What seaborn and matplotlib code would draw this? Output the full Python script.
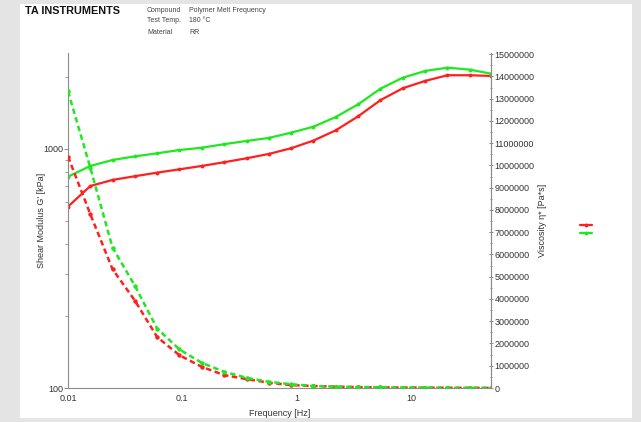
import numpy as np
import pandas as pd
import matplotlib
matplotlib.use('Agg')
import matplotlib.pyplot as plt
from matplotlib.patches import Rectangle
from matplotlib.lines import Line2D
from matplotlib.ticker import FuncFormatter, MultipleLocator, LogLocator, NullFormatter
import seaborn as sns

# frequency sweep [Hz]
freq = [0.01, 0.0157, 0.0245, 0.0384, 0.0602, 0.0944, 0.148, 0.232, 0.364, 0.570,
        0.894, 1.40, 2.20, 3.45, 5.40, 8.47, 13.3, 20.8, 32.6, 50.0]

# shear modulus G' [kPa] (left, log axis)
g_red = [574, 700, 742, 769, 796, 822, 849, 880, 914, 953,
         1007, 1084, 1197, 1370, 1600, 1795, 1926, 2034, 2034, 2020]
g_green = [766, 849, 899, 931, 959, 990, 1012, 1047, 1080, 1112,
           1170, 1239, 1361, 1538, 1787, 1987, 2120, 2188, 2147, 2065]

# complex viscosity [Pa*s] (right, linear axis)
eta_red = [10400000, 7800000, 5340000, 3930000, 2290000, 1470000, 950000, 580000, 400000, 240000,
           130000, 90000, 60000, 40000, 30000, 20000, 15000, 10000, 7000, 5000]
eta_green = [13330000, 9880000, 6310000, 4600000, 2670000, 1730000, 1130000, 730000, 460000, 280000,
             170000, 90000, 60000, 45000, 32000, 22000, 16000, 11000, 8000, 5000]

RED = '#ff1f1f'
GREEN = '#1fe81f'

sns.set_style('white')
plt.rcParams['font.family'] = ['Liberation Sans', 'DejaVu Sans']

df = pd.DataFrame({'freq': freq, 'g_red': g_red, 'g_green': g_green,
                   'eta_red': eta_red, 'eta_green': eta_green})

fig = plt.figure(figsize=(6.41, 4.22), dpi=100, facecolor='#e4e4e4')
fig.patches.append(Rectangle((20 / 641, 4 / 422), 612 / 641, 414 / 422,
                             transform=fig.transFigure, facecolor='white',
                             edgecolor='none', zorder=-10))

ax = fig.add_axes([68 / 641, 34 / 422, 423 / 641, 335 / 422])
ax.set_facecolor('none')
ax2 = ax.twinx()

# G' curves - solid
sns.lineplot(data=df, x='freq', y='g_red', ax=ax, color=RED, lw=1.6,
             marker='o', markersize=2.8, markeredgewidth=0)
sns.lineplot(data=df, x='freq', y='g_green', ax=ax, color=GREEN, lw=1.6,
             marker='o', markersize=2.8, markeredgewidth=0)

# viscosity curves - dashed
sns.lineplot(data=df, x='freq', y='eta_red', ax=ax2, color=RED, lw=1.8,
             linestyle=(0, (2.2, 1.4)), marker='o', markersize=3.2, markeredgewidth=0)
sns.lineplot(data=df, x='freq', y='eta_green', ax=ax2, color=GREEN, lw=1.8,
             linestyle=(0, (2.2, 1.4)), marker='o', markersize=3.2, markeredgewidth=0)

ax.set_xscale('log')
ax.set_yscale('log')
ax.set_xlim(0.01, 50)
ax.set_ylim(100, 2520)
ax2.set_ylim(0, 15050000)

ax.xaxis.set_major_formatter(FuncFormatter(lambda v, p: f'{v:g}'))
ax.xaxis.set_minor_locator(LogLocator(base=10, subs=np.arange(2, 10)))
ax.xaxis.set_minor_formatter(NullFormatter())
ax.yaxis.set_major_formatter(FuncFormatter(lambda v, p: f'{v:g}'))
ax.yaxis.set_minor_locator(LogLocator(base=10, subs=np.arange(2, 10)))
ax.yaxis.set_minor_formatter(NullFormatter())

ax2.yaxis.set_major_locator(MultipleLocator(1000000))
ax2.yaxis.set_minor_locator(MultipleLocator(500000))
ax2.yaxis.set_major_formatter(FuncFormatter(lambda v, p: f'{int(round(v))}'))

for a in (ax, ax2):
    for s in a.spines.values():
        s.set_color('#8c8c8c')
        s.set_linewidth(0.8)
    a.spines['top'].set_visible(False)
    a.tick_params(which='both', colors='#8c8c8c', labelcolor='#333333', labelsize=6.5)
    a.tick_params(which='major', length=3, width=0.7)
    a.tick_params(which='minor', length=2, width=0.6)
ax2.spines['left'].set_visible(False)
ax2.spines['bottom'].set_visible(False)
ax2.tick_params(axis='y', which='both', direction='inout', pad=1)
ax.tick_params(axis='y', which='both', pad=0.5)
ax.tick_params(axis='x', which='both', pad=1.5)

ax.set_xlabel('Frequency [Hz]', fontsize=6.5, color='#333333', labelpad=4)
ax.set_ylabel("Shear Modulus G' [kPa]", fontsize=6.5, color='#333333')
ax2.set_ylabel('Viscosity η* [Pa*s]', fontsize=6.5, color='#333333')
ax.yaxis.set_label_coords(-0.052, 0.5)
ax2.yaxis.set_label_coords(1.111, 0.5)

# legend without labels
handles = [Line2D([], [], color=RED, lw=1.6, marker='o', markersize=2.8, markeredgewidth=0),
           Line2D([], [], color=GREEN, lw=1.6, marker='o', markersize=2.8, markeredgewidth=0)]
fig.legend(handles, ['', ''], loc='center', bbox_to_anchor=(586 / 641, 1 - 230 / 422),
           frameon=False, handlelength=1.6, handletextpad=0, labelspacing=0.05,
           borderpad=0, fontsize=5)

# header
fig.text(25 / 641, 1 - 11 / 422, 'TA INSTRUMENTS', fontsize=7.8, color='#111111',
         va='center', ha='left', weight='semibold')
info = [('Compound', 'Polymer Melt Frequency'), ('Test Temp.', '180 °C'), ('Material', 'RR')]
for i, (k, v) in enumerate(info):
    y = 1 - (10 + i * 11) / 422
    fig.text(147 / 641, y, k, fontsize=5, color='#444444', va='center')
    fig.text(189 / 641, y, v, fontsize=5, color='#444444', va='center')

fig.savefig('out.png', dpi=100, facecolor=fig.get_facecolor())
